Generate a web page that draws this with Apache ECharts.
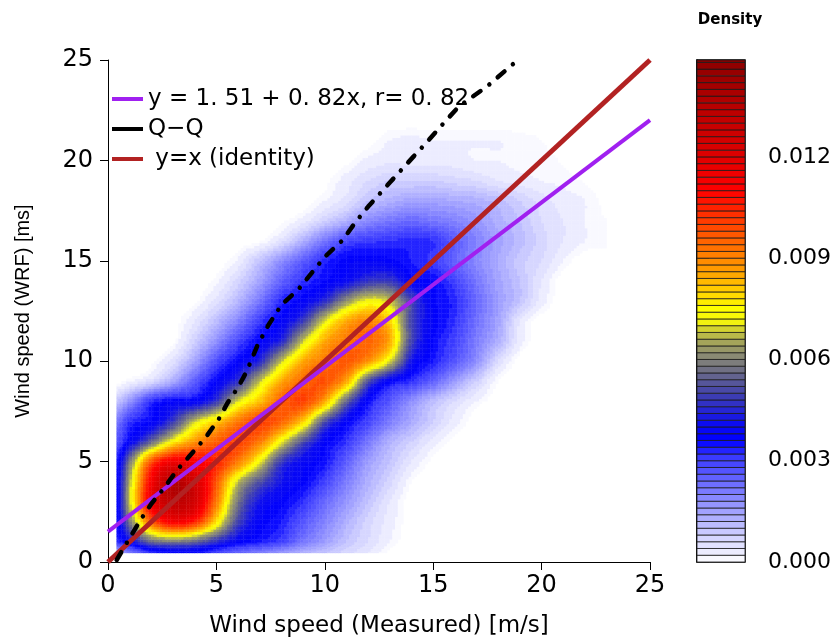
<!DOCTYPE html>
<html>
<head>
<meta charset="utf-8">
<title>Wind speed density</title>
<script src="https://cdn.jsdelivr.net/npm/echarts@6/dist/echarts.min.js"></script>
<style>
  html, body { margin: 0; padding: 0; background: #fff; }
  #main { width: 838px; height: 639px; }
</style>
</head>
<body>
<div id="main"></div>
<script>
// grid nodes of the density estimate (m/s)
const densityX = [0.4, 1, 2, 3, 4, 5, 6, 7, 8, 9, 10, 11, 12, 13, 14, 15, 16, 17, 18, 19, 20, 21, 22, 23];
const densityY = [0.45, 1, 2, 3, 4, 5, 6, 7, 8, 9, 10, 11, 12, 13, 14, 15, 16, 17, 18, 19, 20, 21, 22];

// density, in units of 1e-4, one row per densityY value
const densityRows = [
  [12, 22, 32, 36, 36, 30, 25, 21, 17, 13, 10, 7, 4, 0.5, 0, 0, 0, 0, 0, 0, 0, 0, 0, 0],
  [32, 40, 55, 58, 55, 46, 38, 34, 30, 22, 16, 10, 6, 2, 0, 0, 0, 0, 0, 0, 0, 0, 0, 0],
  [35, 58, 95, 112, 105, 78, 50, 38, 34, 27, 20, 13, 7, 3, 0, 0, 0, 0, 0, 0, 0, 0, 0, 0],
  [36, 68, 115, 132, 125, 92, 58, 42, 37, 32, 24, 17, 10, 4, 0, 0, 0, 0, 0, 0, 0, 0, 0, 0],
  [36, 66, 112, 135, 125, 98, 68, 52, 42, 37, 30, 21, 13, 7, 1, 0, 0, 0, 0, 0, 0, 0, 0, 0],
  [34, 58, 98, 115, 112, 105, 92, 72, 48, 40, 35, 26, 16, 10, 4, 0.5, 0, 0, 0, 0, 0, 0, 0, 0],
  [28, 38, 55, 75, 88, 96, 100, 92, 72, 52, 38, 32, 22, 13, 8, 3, 0.5, 0, 0, 0, 0, 0, 0, 0],
  [22, 32, 37, 48, 68, 80, 92, 100, 95, 80, 52, 38, 30, 21, 14, 8, 3, 0, 0, 0, 0, 0, 0, 0],
  [10, 18, 32, 37, 38, 48, 70, 82, 95, 100, 85, 55, 36, 27, 18, 11, 6, 2, 0, 0, 0, 0, 0, 0],
  [0, 2, 6, 14, 26, 37, 47, 68, 85, 94, 98, 85, 52, 37, 32, 25, 16, 8, 1, 0, 0, 0, 0, 0],
  [0, 0, 0.5, 5, 15, 28, 37, 45, 68, 85, 92, 97, 88, 70, 42, 34, 27, 18, 6, 0, 0, 0, 0, 0],
  [0, 0, 0, 0.5, 8, 18, 29, 37, 45, 68, 85, 92, 95, 85, 50, 36, 30, 21, 13, 3, 0, 0, 0, 0],
  [0, 0, 0, 0, 4, 11, 20, 31, 38, 48, 70, 85, 90, 80, 50, 38, 32, 23, 15, 4, 0, 0, 0, 0],
  [0, 0, 0, 0, 0.5, 5, 12, 22, 33, 38, 46, 62, 72, 68, 50, 37, 33, 24, 16, 10, 3, 0, 0, 0],
  [0, 0, 0, 0, 0, 1.5, 7, 15, 25, 32, 36, 40, 47, 48, 38, 36, 30, 22, 15, 10, 4, 0, 0, 0],
  [0, 0, 0, 0, 0, 0, 2.5, 10, 18, 26, 33, 37, 38, 37, 34, 31, 25, 19, 14, 9, 6, 2, 0, 0],
  [0, 0, 0, 0, 0, 0, 0, 0.5, 5, 13, 22, 29, 31, 32, 33, 32, 26, 20, 15, 11, 7, 4, 2, 1.5],
  [0, 0, 0, 0, 0, 0, 0, 0, 0.5, 3, 8, 13, 19, 22, 24, 22, 20, 17, 13, 10, 6, 4, 2, 1],
  [0, 0, 0, 0, 0, 0, 0, 0, 0, 0, 2, 5, 10, 13, 15, 15, 14, 13, 11, 8, 5, 3, 2, 0.5],
  [0, 0, 0, 0, 0, 0, 0, 0, 0, 0, 0.5, 3, 6, 8, 8, 8, 7, 6, 4, 3, 2, 1.5, 0.8, 0],
  [0, 0, 0, 0, 0, 0, 0, 0, 0, 0, 0, 0.5, 2.5, 3.5, 3, 3, 3, 2, 2, 1.5, 1.5, 0.8, 0, 0],
  [0, 0, 0, 0, 0, 0, 0, 0, 0, 0, 0, 0, 0.3, 2, 2.5, 2, 2, 2, 2, 1.5, 1, 0, 0, 0],
  [0, 0, 0, 0, 0, 0, 0, 0, 0, 0, 0, 0, 0, 0, 0, 0, 0, 0, 0, 0, 0, 0, 0, 0]
];

// quantile-quantile curve (measured, WRF)
const qqPoints = [
  [0.4, 0.1], [1.0, 1.2], [1.5, 2.1], [2.0, 2.9], [2.6, 3.7], [3.2, 4.6], [3.7, 5.2],
  [4.5, 6.2], [5.1, 7.1], [5.5, 7.9], [6.0, 8.7], [6.4, 9.5], [6.9, 10.8], [7.4, 11.8],
  [8.0, 12.8], [8.8, 13.6], [9.4, 14.4], [10.0, 15.2], [10.8, 16.0], [11.4, 16.9],
  [12.0, 17.7], [13.0, 18.9], [14.1, 20.2], [14.7, 20.9], [15.6, 22.0], [16.2, 22.7],
  [17.5, 23.7], [18.9, 25.0]
];
const fitPoints = [[0, 1.51], [25, 22.01]];
const identityPoints = [[0, 0], [25, 25]];

const fitName = 'y = 1. 51 + 0. 82x, r= 0. 82';
const qqName = 'Q\u2212Q';
const identityName = ' y=x (identity)';

const axisTicks = [0, 5, 10, 15, 20, 25];
const densityTicks = [0, 30, 60, 90, 120];   // 1e-4 units
const densityMax = 148.7;
const densityStep = 2;

// colour key (1e-4 units)
const paletteStops = [0, 3, 8, 14, 20, 26, 31, 36, 41, 45, 49, 53, 57, 61, 65, 68, 71, 75, 80, 86, 92, 98, 104, 110, 120, 132, 149];
const paletteColors = ['#ffffff', '#ececff', '#d0d0ff', '#a8a8ff', '#8282ff', '#5a5aff', '#3a3aff', '#0000ff', '#0c0cf0',
  '#2626d4', '#3c3cb4', '#56569a', '#707084', '#8a8a74', '#a4a45a', '#c4c440', '#f2f210', '#ffff00', '#ffd200',
  '#ffa000', '#ff7800', '#ff5000', '#ff2800', '#ff0000', '#e00000', '#c00000', '#8b0000'];

const FONT = 'DejaVu Sans';
const SUB = 8;

function hexToRgb(h) {
  return [parseInt(h.slice(1, 3), 16), parseInt(h.slice(3, 5), 16), parseInt(h.slice(5, 7), 16)];
}

function paletteColor(v) {
  if (v <= paletteStops[0]) return paletteColors[0];
  for (let k = 1; k < paletteStops.length; k++) {
    if (v <= paletteStops[k]) {
      const t = (v - paletteStops[k - 1]) / (paletteStops[k] - paletteStops[k - 1]);
      const a = hexToRgb(paletteColors[k - 1]), b = hexToRgb(paletteColors[k]);
      return 'rgb(' + Math.round(a[0] + (b[0] - a[0]) * t) + ',' + Math.round(a[1] + (b[1] - a[1]) * t) + ',' + Math.round(a[2] + (b[2] - a[2]) * t) + ')';
    }
  }
  return paletteColors[paletteColors.length - 1];
}

// filled-contour look: one colour per level band
function bandColor(v) {
  return paletteColor(Math.floor(v / densityStep) * densityStep + densityStep / 2);
}

function gridValue(i, j) {
  i = Math.max(0, Math.min(densityX.length - 1, i));
  j = Math.max(0, Math.min(densityY.length - 1, j));
  return densityRows[j][i];
}

// Catmull-Rom weights, so the filled levels look smooth like the original contours
function cr(p0, p1, p2, p3, t) {
  return 0.5 * (2 * p1 + (-p0 + p2) * t + (2 * p0 - 5 * p1 + 4 * p2 - p3) * t * t + (-p0 + 3 * p1 - 3 * p2 + p3) * t * t * t);
}

function sampleCell(i, j, u, w) {
  const rows = [];
  for (let r = -1; r <= 2; r++) {
    rows.push(cr(gridValue(i - 1, j + r), gridValue(i, j + r), gridValue(i + 1, j + r), gridValue(i + 2, j + r), u));
  }
  return Math.max(0, cr(rows[0], rows[1], rows[2], rows[3], w));
}

function densityCells() {
  const cells = [];
  for (let j = 0; j < densityY.length - 1; j++) {
    for (let i = 0; i < densityX.length - 1; i++) {
      const top = Math.max(densityRows[j][i], densityRows[j][i + 1], densityRows[j + 1][i], densityRows[j + 1][i + 1]);
      if (top < 1) continue;
      cells.push([densityX[i], densityY[j], densityX[i + 1], densityY[j + 1], i, j]);
    }
  }
  return cells;
}

function renderDensityCell(params, api) {
  const p0 = api.coord([api.value(0), api.value(1)]);
  const p1 = api.coord([api.value(2), api.value(3)]);
  const i = api.value(4), j = api.value(5);
  const children = [];
  for (let a = 0; a < SUB; a++) {
    for (let b = 0; b < SUB; b++) {
      const val = sampleCell(i, j, (a + 0.5) / SUB, (b + 0.5) / SUB);
      if (val < 1) continue;
      const xa = p0[0] + (p1[0] - p0[0]) * a / SUB;
      const xb = p0[0] + (p1[0] - p0[0]) * (a + 1) / SUB;
      const ya = p0[1] + (p1[1] - p0[1]) * b / SUB;
      const yb = p0[1] + (p1[1] - p0[1]) * (b + 1) / SUB;
      children.push({
        type: 'rect',
        shape: { x: xa - 0.2, y: Math.min(ya, yb) - 0.2, width: xb - xa + 0.4, height: Math.abs(yb - ya) + 0.4 },
        style: { fill: bandColor(val) }
      });
    }
  }
  return { type: 'group', children: children };
}

function colorbarBands() {
  const bands = [];
  for (let lo = 0; lo < densityMax; lo += densityStep) {
    bands.push([0, lo, 1, Math.min(lo + densityStep, densityMax)]);
  }
  return bands;
}

function renderBand(params, api) {
  const p0 = api.coord([api.value(0), api.value(1)]);
  const p1 = api.coord([api.value(2), api.value(3)]);
  return {
    type: 'rect',
    shape: { x: p0[0], y: p1[1], width: p1[0] - p0[0], height: p0[1] - p1[1] },
    style: { fill: paletteColor((api.value(1) + api.value(3)) / 2), stroke: '#1a1a1a', lineWidth: 0.8 }
  };
}

function mainAxis(name, extra) {
  return Object.assign({
    type: 'value',
    min: 0,
    max: 25,
    interval: 5,
    name: name,
    nameLocation: 'middle',
    axisLine: { show: true, onZero: false, lineStyle: { color: '#000', width: 1 } },
    axisTick: { show: true, length: 8, lineStyle: { color: '#000', width: 1 } },
    splitLine: { show: false }
  }, extra);
}

function getOption() {
  return {
    animation: false,
    backgroundColor: '#fff',
    grid: [
      { left: 108, top: 60, right: 188, bottom: 77, outerBoundsMode: 'none' },
      { left: 697, top: 60, width: 48, bottom: 77, show: true, borderColor: '#000', borderWidth: 1.5, outerBoundsMode: 'none' }
    ],
    xAxis: [
      mainAxis('Wind speed (Measured) [m/s]', {
        gridIndex: 0,
        nameGap: 53,
        nameTextStyle: { color: '#000', fontFamily: FONT, fontSize: 23 },
        axisLabel: { color: '#000', fontFamily: FONT, fontSize: 24, margin: 12, formatter: v => axisTicks.indexOf(v) >= 0 ? String(v) : '' }
      }),
      { type: 'value', gridIndex: 1, min: 0, max: 1, show: false }
    ],
    yAxis: [
      mainAxis('Wind speed (WRF) [ms]', {
        gridIndex: 0,
        nameGap: 75,
        nameTextStyle: { color: '#000', fontFamily: 'Liberation Sans', fontSize: 20 },
        axisLabel: { color: '#000', fontFamily: FONT, fontSize: 24, margin: 15, formatter: v => axisTicks.indexOf(v) >= 0 ? String(v) : '' }
      }),
      {
        type: 'value',
        gridIndex: 1,
        position: 'right',
        min: 0,
        max: densityMax,
        interval: 30,
        axisLine: { show: true, lineStyle: { color: '#000', width: 1.5 } },
        axisTick: { show: true, length: 12, lineStyle: { color: '#333', width: 1 } },
        axisLabel: {
          color: '#000', fontFamily: FONT, fontSize: 22, margin: 23,
          formatter: v => densityTicks.indexOf(v) >= 0 ? (v / 10000).toFixed(3) : ''
        },
        splitLine: { show: false }
      }
    ],
    legend: {
      orient: 'vertical',
      left: 112,
      top: 87,
      padding: 0,
      itemGap: 6,
      itemWidth: 31,
      itemHeight: 4,
      icon: 'rect',
      selectedMode: false,
      textStyle: { color: '#000', fontFamily: FONT, fontSize: 23, lineHeight: 24 },
      data: [fitName, qqName, identityName]
    },
    graphic: [
      {
        type: 'text',
        x: 730,
        y: 20,
        style: { text: 'Density', fill: '#000', font: 'bold 15px "DejaVu Sans"', textAlign: 'center', textVerticalAlign: 'middle' }
      }
    ],
    series: [
      {
        type: 'custom',
        xAxisIndex: 0,
        yAxisIndex: 0,
        z: 1,
        silent: true,
        clip: true,
        renderItem: renderDensityCell,
        encode: { x: [0, 2], y: [1, 3] },
        data: densityCells()
      },
      {
        type: 'custom',
        xAxisIndex: 1,
        yAxisIndex: 1,
        z: 1,
        silent: true,
        renderItem: renderBand,
        encode: { x: [0, 2], y: [1, 3] },
        data: colorbarBands()
      },
      {
        name: identityName,
        type: 'line',
        z: 3,
        symbol: 'none',
        itemStyle: { color: '#b22222' },
        lineStyle: { color: '#b22222', width: 5 },
        data: identityPoints
      },
      {
        name: fitName,
        type: 'line',
        z: 4,
        symbol: 'none',
        itemStyle: { color: '#a020f0' },
        lineStyle: { color: '#a020f0', width: 4 },
        data: fitPoints
      },
      {
        name: qqName,
        type: 'line',
        z: 5,
        symbol: 'none',
        itemStyle: { color: '#000' },
        lineStyle: { color: '#000', width: 4.5, type: [9, 11, 0.01, 11], cap: 'round' },
        data: qqPoints
      }
    ]
  };
}

const chart = echarts.init(document.getElementById('main'), null, { renderer: 'canvas' });
chart.setOption(getOption());
</script>
</body>
</html>
